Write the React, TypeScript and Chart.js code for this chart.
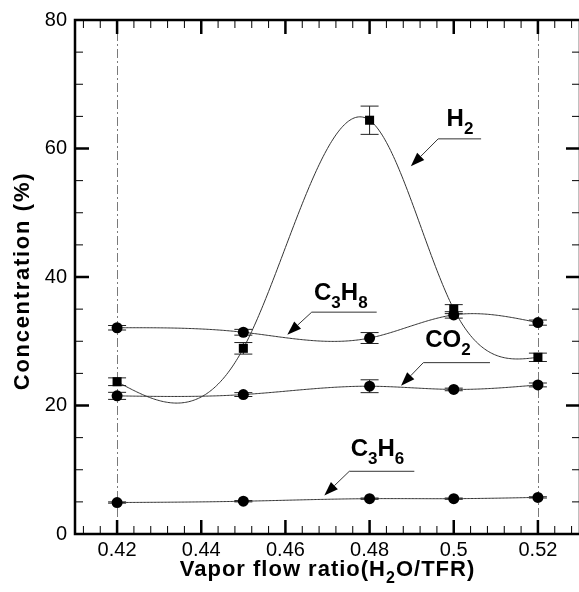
import React, { useEffect, useRef } from "react";
import { Chart, registerables } from "chart.js";

Chart.register(...registerables);

// ---------- data ----------
const xValues = [0.42, 0.45, 0.48, 0.5, 0.52];
const h2 = [23.7, 28.9, 64.4, 35.0, 27.5];
const h2Err = [0.6, 0.9, 2.2, 0.7, 0.65];
const c3h8 = [32.1, 31.4, 30.5, 34.1, 32.9];
const c3h8Err = [0.35, 0.45, 0.85, 0.5, 0.4];
const co2 = [21.5, 21.7, 23.0, 22.5, 23.2];
const co2Err = [0.55, 0.3, 1.0, 0.2, 0.3];
const c3h6 = [4.9, 5.1, 5.5, 5.5, 5.7];
const c3h6Err = [0.1, 0.1, 0.1, 0.1, 0.1];

const xTicks = [0.42, 0.44, 0.46, 0.48, 0.5, 0.52];
const xTickLabels = ["0.42", "0.44", "0.46", "0.48", "0.5", "0.52"];
const yTicks = [0, 20, 40, 60, 80];
const yTickLabels = ["0", "20", "40", "60", "80"];
const refLines = [0.42, 0.52];

const xTitleParts: [string, boolean][] = [["Vapor flow ratio(H", false], ["2", true], ["O/TFR)", false]];
const yTitle = "Concentration (%)";

// label annotations (in data coordinates)
const annotations = [
  { parts: [["H", false], ["2", true]] as [string, boolean][], text: [0.4983, 63.55], elbow: [0.4963, 61.5], end: [0.5065, 61.5], tip: [0.4898, 57.23] },
  { parts: [["C", false], ["3", true], ["H", false], ["8", true]] as [string, boolean][], text: [0.4668, 36.49], elbow: [0.46625, 34.53], end: [0.48169, 34.53], tip: [0.46045, 31.03] },
  { parts: [["CO", false], ["2", true]] as [string, boolean][], text: [0.4932, 29.13], elbow: [0.49277, 26.67], end: [0.50861, 26.67], tip: [0.48747, 23.07] },
  { parts: [["C", false], ["3", true], ["H", false], ["6", true]] as [string, boolean][], text: [0.4755, 12.18], elbow: [0.47518, 9.76], end: [0.49063, 9.76], tip: [0.46924, 6.01] },
];

const errorSets = [h2Err, c3h8Err, co2Err, c3h6Err];

const FAMILY = "'Liberation Sans', Arial, Helvetica, sans-serif";

// natural cubic spline y(x); returns evaluator
function naturalSpline(xs: number[], ys: number[]) {
  const n = xs.length;
  const h: number[] = [];
  for (let i = 0; i < n - 1; i++) h.push(xs[i + 1] - xs[i]);
  const m = n - 2;
  const a: number[] = [], b: number[] = [], c: number[] = [], d: number[] = [];
  for (let i = 1; i <= n - 2; i++) {
    a.push(h[i - 1]);
    b.push(2 * (h[i - 1] + h[i]));
    c.push(h[i]);
    d.push(6 * ((ys[i + 1] - ys[i]) / h[i] - (ys[i] - ys[i - 1]) / h[i - 1]));
  }
  for (let k = 1; k < m; k++) {
    const w = a[k] / b[k - 1];
    b[k] -= w * c[k - 1];
    d[k] -= w * d[k - 1];
  }
  const M = new Array(n).fill(0);
  for (let k = m - 1; k >= 0; k--) {
    M[k + 1] = (d[k] - (k < m - 1 ? c[k] * M[k + 2] : 0)) / b[k];
  }
  return (x: number) => {
    let i = 0;
    while (i < n - 2 && x > xs[i + 1]) i++;
    const hi = h[i];
    const x0 = xs[i], x1 = xs[i + 1];
    return (
      (M[i] * Math.pow(x1 - x, 3)) / (6 * hi) +
      (M[i + 1] * Math.pow(x - x0, 3)) / (6 * hi) +
      (ys[i] / hi - (M[i] * hi) / 6) * (x1 - x) +
      (ys[i + 1] / hi - (M[i + 1] * hi) / 6) * (x - x0)
    );
  };
}

function drawRich(ctx: CanvasRenderingContext2D, parts: [string, boolean][], x: number, y: number, mainFont: string, subFont: string, subDy: number, spacing: number) {
  let cx = x;
  ctx.textAlign = "left";
  ctx.textBaseline = "alphabetic";
  (ctx as any).letterSpacing = spacing + "px";
  for (const [t, sub] of parts) {
    ctx.font = sub ? subFont : mainFont;
    ctx.fillText(t, cx, sub ? y + subDy : y);
    cx += ctx.measureText(t).width;
  }
  (ctx as any).letterSpacing = "0px";
}

function richWidth(ctx: CanvasRenderingContext2D, parts: [string, boolean][], mainFont: string, subFont: string, spacing: number) {
  let w = 0;
  (ctx as any).letterSpacing = spacing + "px";
  for (const [t, sub] of parts) {
    ctx.font = sub ? subFont : mainFont;
    w += ctx.measureText(t).width;
  }
  (ctx as any).letterSpacing = "0px";
  return w;
}

const decorPlugin = {
  id: "decor",
  beforeDatasetsDraw(chart: any) {
    const { ctx, chartArea: ca, scales } = chart;
    const xs = scales.x, ys = scales.y;
    ctx.save();
    // reference dash-dot lines
    ctx.strokeStyle = "#7a7a7a";
    ctx.lineWidth = 1;
    ctx.setLineDash([9, 3, 2, 3]);
    refLines.forEach((v) => {
      const px = Math.round(xs.getPixelForValue(v)) + 0.5;
      ctx.beginPath();
      ctx.moveTo(px, ca.bottom);
      ctx.lineTo(px, ca.top);
      ctx.stroke();
    });
    ctx.setLineDash([]);
    // spline curves
    ctx.strokeStyle = "#333";
    ctx.lineWidth = 1;
    chart.data.datasets.forEach((ds: any) => {
      const px = ds.data.map((p: any) => p.x);
      const py = ds.data.map((p: any) => p.y);
      const f = naturalSpline(px, py);
      ctx.beginPath();
      const steps = 300;
      const x0 = px[0], x1 = px[px.length - 1];
      for (let s = 0; s <= steps; s++) {
        const xv = x0 + ((x1 - x0) * s) / steps;
        const X = xs.getPixelForValue(xv);
        const Y = ys.getPixelForValue(f(xv));
        if (s === 0) ctx.moveTo(X, Y);
        else ctx.lineTo(X, Y);
      }
      ctx.stroke();
    });
    // error bars
    ctx.strokeStyle = "#222";
    ctx.lineWidth = 1;
    chart.data.datasets.forEach((ds: any, di: number) => {
      const errs = errorSets[di];
      ds.data.forEach((p: any, i: number) => {
        const X = xs.getPixelForValue(p.x);
        const yt = ys.getPixelForValue(p.y + errs[i]);
        const yb = ys.getPixelForValue(p.y - errs[i]);
        ctx.beginPath();
        ctx.moveTo(X, yt);
        ctx.lineTo(X, yb);
        ctx.moveTo(X - 9, yt);
        ctx.lineTo(X + 9, yt);
        ctx.moveTo(X - 9, yb);
        ctx.lineTo(X + 9, yb);
        ctx.stroke();
      });
    });
    ctx.restore();
  },
  afterDraw(chart: any) {
    const { ctx, chartArea: ca, scales } = chart;
    const xs = scales.x, ys = scales.y;
    ctx.save();
    ctx.strokeStyle = "#000";
    ctx.fillStyle = "#000";
    // frame
    ctx.lineWidth = 2.5;
    ctx.strokeRect(ca.left, ca.top, ca.right - ca.left, ca.bottom - ca.top);
    // x ticks (0.004 steps)
    for (let k = 103; k <= 132; k++) {
      const v = k * 0.004;
      const X = xs.getPixelForValue(v);
      const major = k % 5 === 0;
      const len = major ? 14 : 8;
      ctx.lineWidth = major ? 2.5 : 1;
      ctx.beginPath();
      ctx.moveTo(X, ca.bottom);
      ctx.lineTo(X, ca.bottom - len);
      ctx.moveTo(X, ca.top);
      ctx.lineTo(X, ca.top + len);
      ctx.stroke();
    }
    // y ticks (5 steps)
    for (let v = 5; v < 80; v += 5) {
      const Y = ys.getPixelForValue(v);
      const major = v % 20 === 0;
      const len = major ? 14 : 8;
      ctx.lineWidth = major ? 2.5 : 1;
      ctx.beginPath();
      ctx.moveTo(ca.left, Y);
      ctx.lineTo(ca.left + len, Y);
      ctx.moveTo(ca.right, Y);
      ctx.lineTo(ca.right - len, Y);
      ctx.stroke();
    }
    // annotations
    annotations.forEach((a) => {
      const tx = xs.getPixelForValue(a.text[0]);
      const ty = ys.getPixelForValue(a.text[1]);
      ctx.fillStyle = "#000";
      drawRich(ctx, a.parts, tx, ty, `bold 24px ${FAMILY}`, `bold 17px ${FAMILY}`, 8, 0);
      const ex = xs.getPixelForValue(a.elbow[0]), ey = ys.getPixelForValue(a.elbow[1]);
      const nx = xs.getPixelForValue(a.end[0]), ny = ys.getPixelForValue(a.end[1]);
      const px = xs.getPixelForValue(a.tip[0]), py = ys.getPixelForValue(a.tip[1]);
      const ang = Math.atan2(py - ey, px - ex);
      const L = 14, W = 5;
      const bx = px - L * Math.cos(ang), by = py - L * Math.sin(ang);
      ctx.strokeStyle = "#333";
      ctx.lineWidth = 1;
      ctx.beginPath();
      ctx.moveTo(nx, ny);
      ctx.lineTo(ex, ey);
      ctx.lineTo(bx, by);
      ctx.stroke();
      ctx.beginPath();
      ctx.moveTo(px, py);
      ctx.lineTo(bx - W * Math.sin(ang), by + W * Math.cos(ang));
      ctx.lineTo(bx + W * Math.sin(ang), by - W * Math.cos(ang));
      ctx.closePath();
      ctx.fill();
    });
    // x title
    ctx.fillStyle = "#000";
    const mf = `bold 22px ${FAMILY}`, sf = `bold 16px ${FAMILY}`;
    const w = richWidth(ctx, xTitleParts, mf, sf, 1);
    const cx = (ca.left + ca.right) / 2;
    drawRich(ctx, xTitleParts, cx - w / 2, 576, mf, sf, 7, 1);
    // y title
    ctx.save();
    ctx.translate(29, 281);
    ctx.rotate(-Math.PI / 2);
    ctx.font = `bold 22px ${FAMILY}`;
    (ctx as any).letterSpacing = "1.7px";
    const yw = ctx.measureText(yTitle).width;
    ctx.textAlign = "left";
    ctx.textBaseline = "alphabetic";
    ctx.fillText(yTitle, -yw / 2, 0);
    (ctx as any).letterSpacing = "0px";
    ctx.restore();
    ctx.restore();
  },
};

function mk(values: number[]) {
  return xValues.map((x, i) => ({ x, y: values[i] }));
}

export default function App() {
  const ref = useRef<HTMLCanvasElement | null>(null);
  useEffect(() => {
    if (!ref.current) return;
    const pointBase = { showLine: false, pointBackgroundColor: "#000", pointBorderColor: "#000", pointBorderWidth: 0 };
    const chart = new Chart(ref.current, {
      type: "scatter",
      data: {
        datasets: [
          { label: "H2", data: mk(h2), pointStyle: "rect", pointRadius: 6.4, ...pointBase },
          { label: "C3H8", data: mk(c3h8), pointStyle: "circle", pointRadius: 5.5, ...pointBase },
          { label: "CO2", data: mk(co2), pointStyle: "circle", pointRadius: 5.5, ...pointBase },
          { label: "C3H6", data: mk(c3h6), pointStyle: "circle", pointRadius: 5.5, ...pointBase },
        ] as any,
      },
      options: {
        animation: false,
        responsive: false,
        devicePixelRatio: 1,
        events: [],
        layout: { padding: { left: 0, top: 15, right: 10, bottom: 0 } },
        plugins: { legend: { display: false }, tooltip: { enabled: false } },
        scales: {
          x: {
            type: "linear",
            min: 0.41,
            max: 0.53,
            grid: { display: false, drawTicks: false },
            border: { display: false },
            afterBuildTicks: (s: any) => {
              s.ticks = xTicks.map((v) => ({ value: v }));
            },
            afterFit: (s: any) => {
              s.height = 58;
            },
            ticks: {
              autoSkip: false,
              maxRotation: 0,
              padding: 4,
              color: "#000",
              font: { family: FAMILY, size: 20 },
              callback: (_v: any, i: number) => xTickLabels[i],
            },
          },
          y: {
            type: "linear",
            min: 0,
            max: 80,
            grid: { display: false, drawTicks: false },
            border: { display: false },
            afterBuildTicks: (s: any) => {
              s.ticks = yTicks.map((v) => ({ value: v }));
            },
            afterFit: (s: any) => {
              s.width = 75;
            },
            ticks: {
              padding: 8,
              color: "#000",
              font: { family: FAMILY, size: 20 },
              callback: (_v: any, i: number) => yTickLabels[i],
            },
          },
        },
      } as any,
      plugins: [decorPlugin as any],
    });
    return () => chart.destroy();
  }, []);
  return (
    <div style={{ position: "fixed", left: 0, top: 0, width: 579, height: 592, overflow: "hidden", background: "#fff" }}>
      <canvas ref={ref} width={590} height={592} style={{ display: "block" }} />
    </div>
  );
}
